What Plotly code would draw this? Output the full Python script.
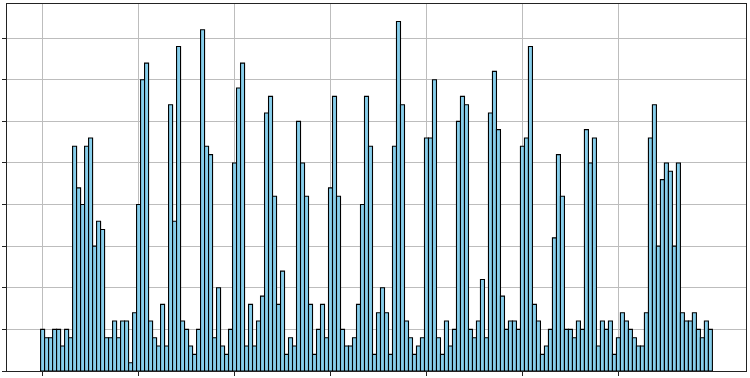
import plotly.graph_objects as go

# Hour of week (0..167) and counts per hour
hours = list(range(168))
day0 = [5, 4, 4, 5, 5, 3, 5, 4, 27, 22, 20, 27, 28, 15, 18, 17, 4, 4, 6, 4, 6, 6, 1, 7]
day1 = [20, 35, 37, 6, 4, 3, 8, 3, 32, 18, 39, 6, 5, 3, 2, 5, 41, 27, 26, 4, 10, 3, 2, 5]
day2 = [25, 34, 37, 3, 8, 3, 6, 9, 31, 33, 21, 8, 12, 2, 4, 3, 30, 25, 21, 8, 2, 5, 8, 4]
day3 = [22, 33, 21, 5, 3, 3, 4, 8, 20, 33, 27, 2, 7, 10, 7, 2, 27, 42, 32, 6, 4, 2, 3, 4]
day4 = [28, 28, 35, 4, 2, 6, 3, 5, 30, 33, 32, 5, 4, 6, 11, 4, 31, 36, 29, 9, 5, 6, 6, 5]
day5 = [27, 28, 39, 8, 6, 2, 3, 5, 16, 26, 21, 5, 5, 4, 6, 5, 29, 25, 28, 3, 6, 5, 6, 2]
day6 = [4, 7, 6, 5, 4, 3, 3, 7, 28, 32, 15, 23, 25, 24, 15, 25, 7, 6, 6, 7, 5, 4, 6, 5]
counts = day0 + day1 + day2 + day3 + day4 + day5 + day6

xtick_vals = [0, 24, 48, 72, 96, 120, 144]
ytick_vals = [0, 5, 10, 15, 20, 25, 30, 35, 40]

fig = go.Figure(
    go.Bar(
        x=hours,
        y=counts,
        width=1,
        marker=dict(color="#87CEEB", line=dict(color="black", width=1.1)),
    )
)

axis_common = dict(
    showgrid=True,
    gridcolor="#bdbdbd",
    gridwidth=1,
    showline=True,
    linecolor="#222222",
    linewidth=1,
    mirror=True,
    ticks="outside",
    ticklen=4,
    tickcolor="#222222",
    tickwidth=1,
    showticklabels=False,
    zeroline=False,
    layer="above traces",
)

fig.update_layout(
    width=750,
    height=378,
    margin=dict(l=5, r=3, t=4, b=7),
    plot_bgcolor="white",
    paper_bgcolor="white",
    bargap=0,
    showlegend=False,
    hovermode=False,
    xaxis=dict(range=[-8.9, 175.9], tickvals=xtick_vals, **axis_common),
    yaxis=dict(range=[0, 44.1], tickvals=ytick_vals, **axis_common),
)

fig.write_html(
    "out.html",
    config={"displayModeBar": False, "staticPlot": True},
    post_script="document.body.style.margin='0';document.body.style.padding='0';document.body.style.overflow='hidden';",
)
